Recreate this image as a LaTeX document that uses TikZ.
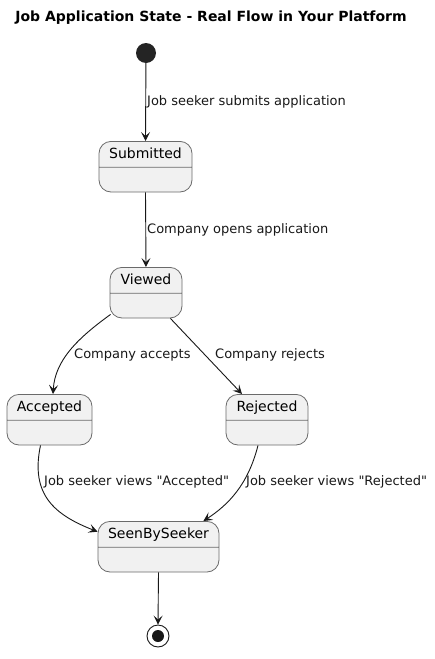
\documentclass[tikz,border=0pt]{standalone}
\usepackage{fontspec}
\setmainfont{DejaVu Sans}
\usetikzlibrary{shapes.multipart,arrows.meta,positioning}
\definecolor{statefill}{HTML}{F1F1F1}
\definecolor{stateline}{HTML}{6A6A6A}
\definecolor{ink}{HTML}{181818}
\tikzset{
  state/.style  = {rectangle split, rectangle split parts=2, rounded corners=12pt,
                   draw=stateline, fill=statefill, line width=0.8pt,
                   font=\fontsize{14pt}{16pt}\selectfont, text height=11pt, text depth=3pt,
                   inner ysep=5.5pt, anchor=north,
                   rectangle split empty part height=13pt,
                   rectangle split empty part depth=0pt},
  lbl/.style    = {font=\fontsize{13pt}{15pt}\selectfont, text=ink, inner sep=1pt},
  arr/.style    = {-{Stealth[length=9pt, width=9pt, inset=4pt]}, line width=0.9pt, draw=ink},
}
\begin{document}
\begin{tikzpicture}[x=1pt, y=-1pt]
\useasboundingbox (0,0) rectangle (434,659);

%% title
\node[font=\fontsize{14pt}{16pt}\selectfont\bfseries] (title) at (211,18)
  {Job Application State - Real Flow in Your Platform};

%% states
\node[circle, fill=ink!95, minimum size=20pt, inner sep=0pt] (start) at (146,53) {};
\node[state, minimum width=93pt] (submitted) at (145.5,141) {Submitted\nodepart{two}};
\node[state, minimum width=72pt] (viewed)    at (146,267)   {Viewed\nodepart{two}};
\node[state, minimum width=85pt] (accepted)  at (49.5,394)  {Accepted\nodepart{two}};
\node[state, minimum width=82pt] (rejected)  at (267,394)   {Rejected\nodepart{two}};
\node[state, minimum width=121pt] (seen)     at (158.5,521) {SeenBySeeker\nodepart{two}};
\node[circle, draw=ink, line width=0.9pt, minimum size=22pt, inner sep=0pt] (stop) at (158,636) {};
\node[circle, fill=ink, minimum size=12pt, inner sep=0pt] (stopdot) at (stop.center) {};

%% transitions
\draw[arr] (start) -- (submitted.north)
  node[lbl, midway, anchor=west] (l1) {Job seeker submits application};
\draw[arr] (submitted.south) -- (viewed.north)
  node[lbl, midway, anchor=west] (l2) {Company opens application};
\draw[arr] (viewed.south west) ++(1,-4) .. controls (78,338) and (55,360) .. ([xshift=3.5pt]accepted.north);
\draw[arr] (viewed.south east) ++(-12,0) -- ([xshift=-25pt]rejected.north);
\draw[arr] (accepted.south) ++(-9,0) .. controls (30,495) and (55,515) .. ([yshift=15pt]seen.west);
\draw[arr] (rejected.south) ++(-9,0) .. controls (248,485) and (228,505) .. ([xshift=-16pt]seen.north east);
\draw[arr] (seen.south) -- (stop.north);

%% labels of the curved transitions
\node[lbl, anchor=west] (l3) at (73,355) {Company accepts};
\node[lbl, anchor=west] (l4) at (214,355) {Company rejects};
\node[lbl, anchor=west] (l5) at (43,482) {Job seeker views \textquotedbl Accepted\textquotedbl};
\node[lbl, anchor=west] (l6) at (245,482) {Job seeker views \textquotedbl Rejected\textquotedbl};

\end{tikzpicture}
\end{document}
